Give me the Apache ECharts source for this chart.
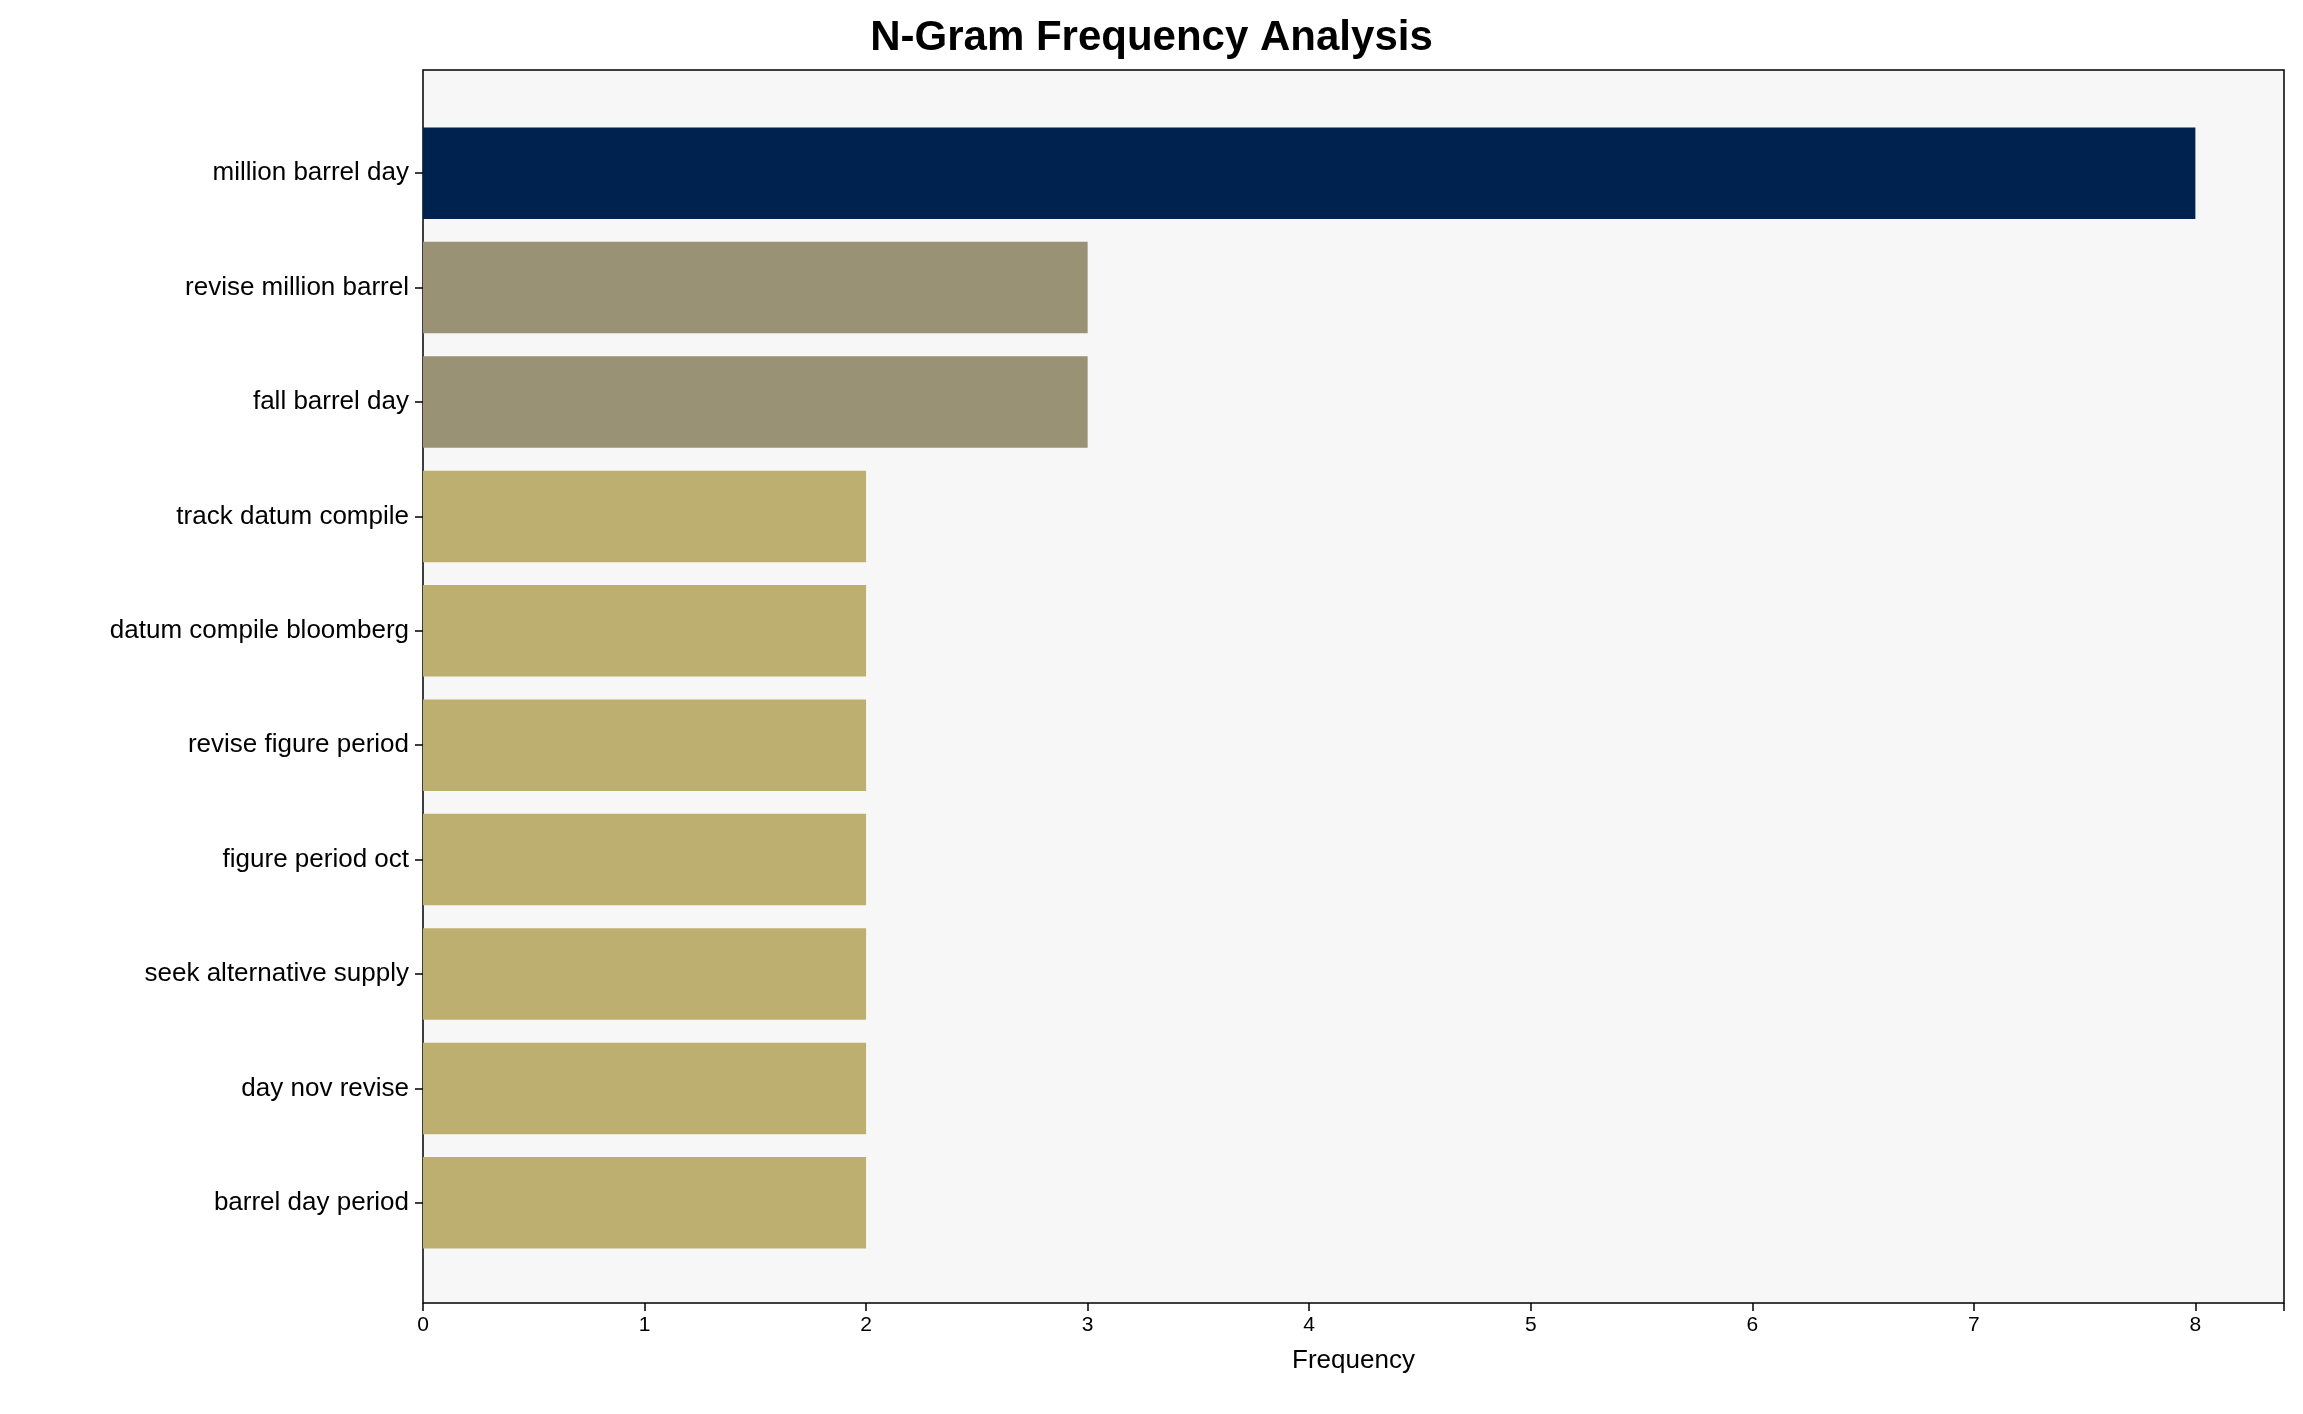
<!DOCTYPE html>
<html>
<head>
<meta charset="utf-8">
<script src="https://cdn.jsdelivr.net/npm/echarts@6/dist/echarts.min.js"></script>
<style>html,body{margin:0;padding:0;background:#fff}#chart{width:2303px;height:1414px}</style>
</head>
<body>
<div id="chart"></div>
<script>
// data, top to bottom
var categories = ['million barrel day', 'revise million barrel', 'fall barrel day', 'track datum compile',
  'datum compile bloomberg', 'revise figure period', 'figure period oct', 'seek alternative supply',
  'day nov revise', 'barrel day period'];
var frequency = [8, 3, 3, 2, 2, 2, 2, 2, 2, 2];
var barColors = ['#00224e', '#9a9275', '#9a9275', '#bcaf6f', '#bcaf6f', '#bcaf6f', '#bcaf6f', '#bcaf6f', '#bcaf6f', '#bcaf6f'];

var chart = echarts.init(document.getElementById('chart'));
var font = 'Liberation Sans, Arial, sans-serif';

var option = {
  animation: false,
  textStyle: { fontFamily: font },
  title: {
    text: 'N-Gram Frequency Analysis',
    left: 'center', top: 12,
    textStyle: { fontSize: 42, fontWeight: 'bold', color: '#000', fontFamily: font }
  },
  graphic: [{
    type: 'rect', z: -1, silent: true,
    shape: { x: 423, y: 70, width: 1861, height: 1233 },
    style: { fill: '#f7f7f7', stroke: '#000', lineWidth: 1.5 }
  }],
  grid: { left: 423, right: 19, top: 116, bottom: 154 },
  xAxis: {
    type: 'value', min: 0, max: 8.4, interval: 1, offset: 43,
    name: 'Frequency', nameLocation: 'middle', nameGap: 45,
    nameTextStyle: { fontSize: 26, color: '#000' },
    axisLine: { show: false },
    axisTick: { show: true, length: 8, lineStyle: { color: '#000', width: 1.5 } },
    axisLabel: { fontSize: 21, color: '#000', margin: 12,
      formatter: function (v) { return Number.isInteger(v) ? v : ''; } },
    splitLine: { show: false }
  },
  yAxis: {
    type: 'category', inverse: true, data: categories,
    axisLine: { show: false },
    axisTick: { show: true, alignWithLabel: true, length: 8, lineStyle: { color: '#000', width: 1.5 } },
    axisLabel: { fontSize: 26, color: '#000', margin: 14 }
  },
  series: [{
    type: 'bar',
    barWidth: '80%',
    data: frequency.map(function (v, i) { return { value: v, itemStyle: { color: barColors[i] } }; })
  }]
};

chart.setOption(option);
</script>
</body>
</html>
